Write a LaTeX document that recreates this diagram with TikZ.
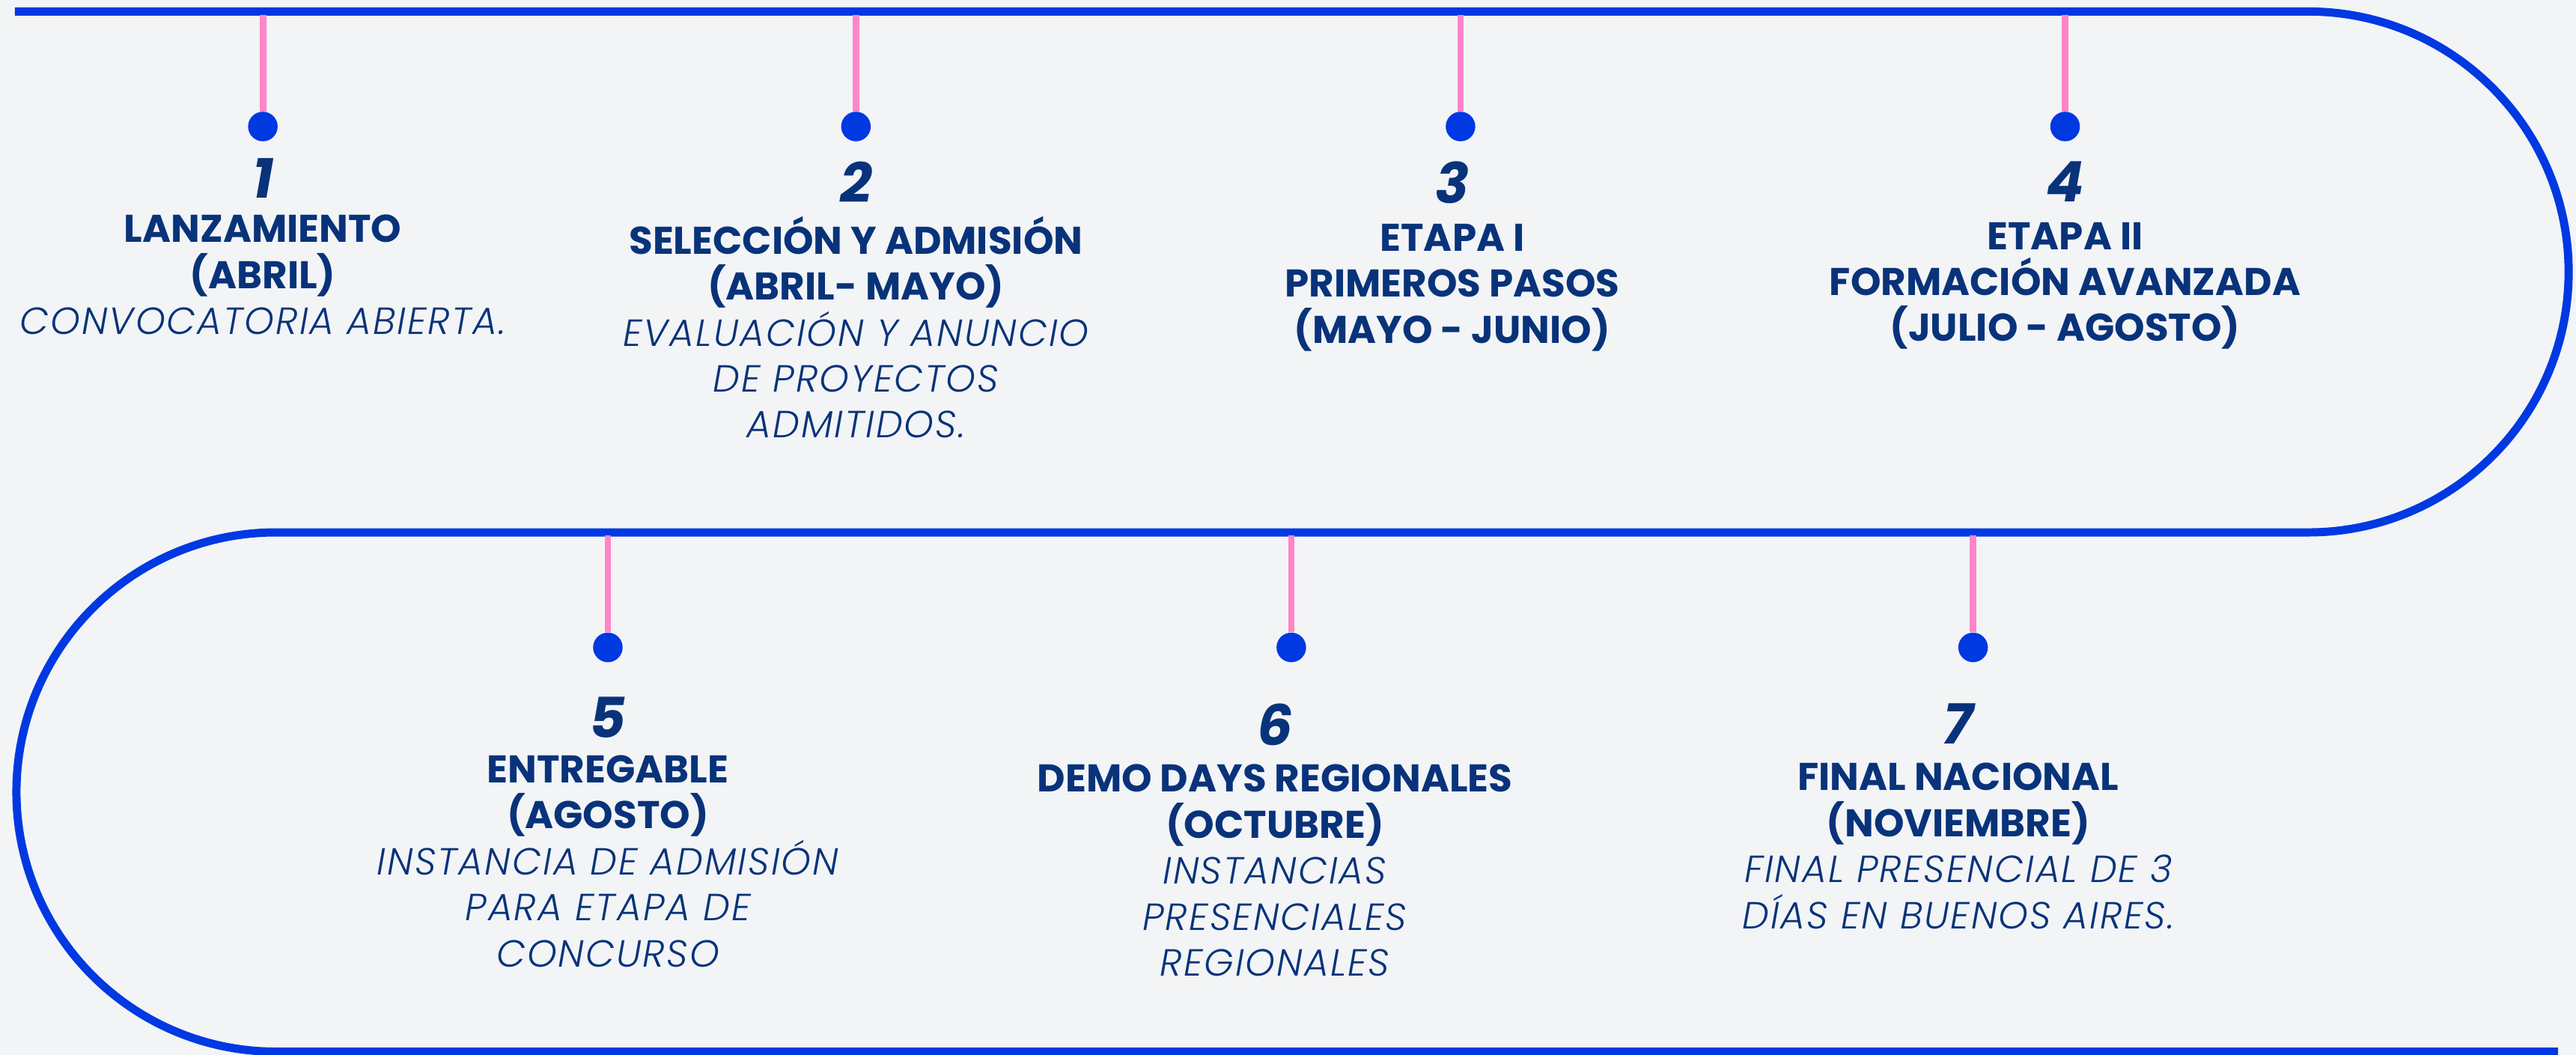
\documentclass[tikz,border=0pt]{standalone}
\usepackage{fontspec}
\setmainfont{Poppins}
\newfontfamily\descfont{Poppins Light Italic}[BoldFont={Poppins Light Italic},LetterSpace=4]
\usetikzlibrary{positioning}

\definecolor{trackblue}{HTML}{0038E2}
\definecolor{stempink}{HTML}{FF85C8}
\definecolor{navy}{HTML}{08337A}
\definecolor{paper}{HTML}{F2F4F6}

\tikzset{
  track/.style={draw=trackblue,line width=5pt},
  stem/.style={draw=stempink,line width=4pt},
  dot/.style={circle,fill=trackblue,inner sep=0pt,minimum size=18pt},
  num/.style={inner sep=0pt,text=navy,font=\fontsize{34}{34}\selectfont\bfseries\itshape},
  info/.style={inner sep=0pt,text=navy,align=center,font=\fontsize{23.5}{28}\selectfont\bfseries},
}
\newcommand{\desc}[1]{{\descfont\mdseries\fontsize{23}{28}\selectfont #1}}

\begin{document}
\begin{tikzpicture}[x=1pt,y=-1pt]
      \fill[paper] (0,0) rectangle (1568,642);
      \useasboundingbox (0,0) rectangle (1568,642);

      % the track
      \draw[track] (9,7) -- (1405,7) arc[start angle=-90,end angle=90,radius=158.5]
        -- (168,324) arc[start angle=-90,end angle=-270,radius=158] -- (1557,640);

      % stems and dots
      \coordinate (s1) at (160,9);
      \coordinate (s2) at (521,9);
      \coordinate (s3) at (889,9);
      \coordinate (s4) at (1257,9);
      \coordinate (s5) at (370,326);
      \coordinate (s6) at (786,326);
      \coordinate (s7) at (1201,326);
      \node[dot] (d1) at (160,77) {};
      \node[dot] (d2) at (521,77) {};
      \node[dot] (d3) at (889,77) {};
      \node[dot] (d4) at (1257,77) {};
      \node[dot] (d5) at (370,394) {};
      \node[dot] (d6) at (786,394) {};
      \node[dot] (d7) at (1201,394) {};
      \draw[stem] (s1) -- (d1);
      \draw[stem] (s2) -- (d2);
      \draw[stem] (s3) -- (d3);
      \draw[stem] (s4) -- (d4);
      \draw[stem] (s5) -- (d5);
      \draw[stem] (s6) -- (d6);
      \draw[stem] (s7) -- (d7);

      % numbers
      \node[num,below=10pt of d1] (n1) {1};
      \node[num,below=12pt of d2] (n2) {2};
      \node[num,below=12pt of d3,xshift=-5pt] (n3) {3};
      \node[num,below=12pt of d4] (n4) {4};
      \node[num,below=21pt of d5] (n5) {5};
      \node[num,below=25pt of d6,xshift=-10pt] (n6) {6};
      \node[num,below=25pt of d7,xshift=-9pt] (n7) {7};

      % texts
      \node[info,below=10pt of n1] (t1) {LANZAMIENTO\\(ABRIL)\\\desc{CONVOCATORIA ABIERTA.}};
      \node[info,below=8pt of n2] (t2) {SELECCIÓN Y ADMISIÓN\\(ABRIL- MAYO)\\\desc{EVALUACIÓN Y ANUNCIO}\\\desc{DE PROYECTOS}\\\desc{ADMITIDOS.}};
      \node[info,below=12pt of n3] (t3) {ETAPA I\\PRIMEROS PASOS\\(MAYO - JUNIO)};
      \node[info,below=12pt of n4] (t4) {ETAPA II\\FORMACIÓN AVANZADA\\(JULIO - AGOSTO)};
      \node[info,below=10pt of n5] (t5) {ENTREGABLE\\(AGOSTO)\\\desc{INSTANCIA DE ADMISIÓN}\\\desc{PARA ETAPA DE}\\\desc{CONCURSO}};
      \node[info,below=11pt of n6] (t6) {DEMO DAYS REGIONALES\\(OCTUBRE)\\\desc{INSTANCIAS}\\\desc{PRESENCIALES}\\\desc{REGIONALES}};
      \node[info,below=11pt of n7] (t7) {FINAL NACIONAL\\(NOVIEMBRE)\\\desc{FINAL PRESENCIAL DE 3}\\\desc{DÍAS EN BUENOS AIRES.}};
    \end{tikzpicture}
\end{document}
